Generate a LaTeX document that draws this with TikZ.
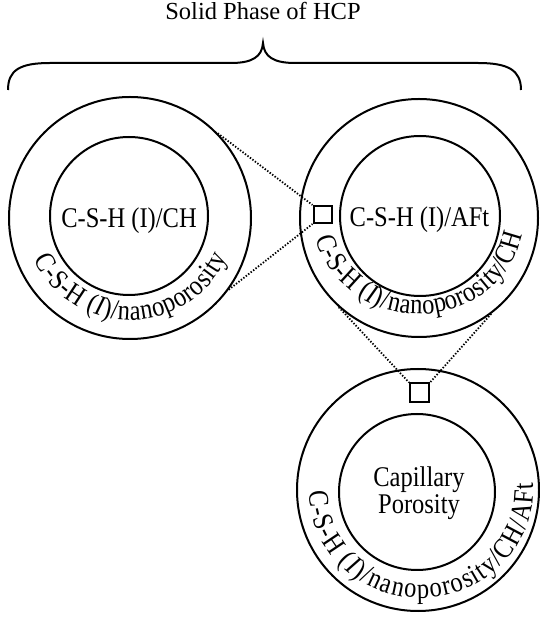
\documentclass[tikz,border=0pt]{standalone}
\usepackage{fontspec}
\setmainfont{Liberation Serif}
\newfontfamily\narrowfont[FakeStretch=0.86]{Liberation Serif}
\newcommand\lblfont{\narrowfont\fontsize{28.5}{25}\selectfont}
\usetikzlibrary{decorations.text,calc}
\begin{document}
\begin{tikzpicture}[x=1pt,y=1pt,
  ring/.style={circle,draw,line width=2pt,inner sep=0pt,minimum size=#1},
  zoombox/.style={draw,line width=2pt,inner sep=0pt,minimum width=18pt,minimum height=17pt},
  zoomline/.style={line width=1.8pt,dash pattern=on 1.4pt off 1.7pt},
  lbl/.style={inner sep=0pt,anchor=base,font=\lblfont},
  bracestyle/.style={line width=2pt}
]
\fontsize{24.5}{25}\selectfont
\useasboundingbox (0,0) rectangle (540,619);

% title and brace
\node[inner sep=0pt,anchor=base] (title) at (263,599) {Solid Phase of HCP};
\draw[bracestyle] (8,529) .. controls (8,549) and (20,556) .. (50,556) -- (231,556)
  .. controls (252,556) and (262,562) .. (263,576)
  .. controls (264,562) and (274,556) .. (295,556) -- (478,556)
  .. controls (508,556) and (521,549) .. (521,529);

% circle 1
\node[ring=242pt] (c1) at (130,401) {};
\node[ring=158pt] (c1i) at (129,403) {};
\node[lbl] (t1) at (129,391) {C-S-H (I)/CH};
\path[decorate,decoration={text along path,text align={fit to path},
  text={|\lblfont\upshape|C-S-H (|\lblfont\itshape|I|\lblfont\upshape|)/nanoporosity}}]
  ($(c1.center)+(204:105 and 102)$) arc[start angle=204,end angle=337,x radius=105,y radius=102];

% circle 2
\node[ring=238pt] (c2) at (419,401) {};
\node[ring=160pt] (c2i) at (420,403) {};
\node[lbl] (t2) at (419.5,392) {C-S-H (I)/AFt};
\path[decorate,decoration={text along path,text align={fit to path},
  text={|\lblfont\upshape|C-S-H (|\lblfont\itshape|I|\lblfont\upshape|)/nanoporosity/CH}}]
  ($(c2.center)+(192:105 and 96)$) arc[start angle=192,end angle=350,x radius=105,y radius=96];
\node[zoombox] (sq2) at (322.5,404.5) {};

% circle 3
\node[ring=242pt] (c3) at (418,129) {};
\node[ring=156pt] (c3i) at (417,127) {};
\node[lbl,align=center] (t3) at (419,106) {Capillary\\Porosity};
\path[decorate,decoration={text along path,text align={fit to path},
  text={|\lblfont\upshape|C-S-H (|\lblfont\itshape|I|\lblfont\upshape|)/nanoporosity/CH/AFt}}]
  ($(c3.center)+(3,0)+(181:112 and 108)$) arc[start angle=181,end angle=364,x radius=112,y radius=108];
\node[zoombox,minimum width=19pt,minimum height=19pt] (sq3) at (419.5,226) {};

% zoom connectors
\draw[zoomline] (c1.44) -- (sq2.north west);
\draw[zoomline] (c1.-36) -- (sq2.south west);
\draw[zoomline] (c2.228) -- (sq3.north west);
\draw[zoomline] (c2.307) -- (sq3.north east);
\end{tikzpicture}
\end{document}
